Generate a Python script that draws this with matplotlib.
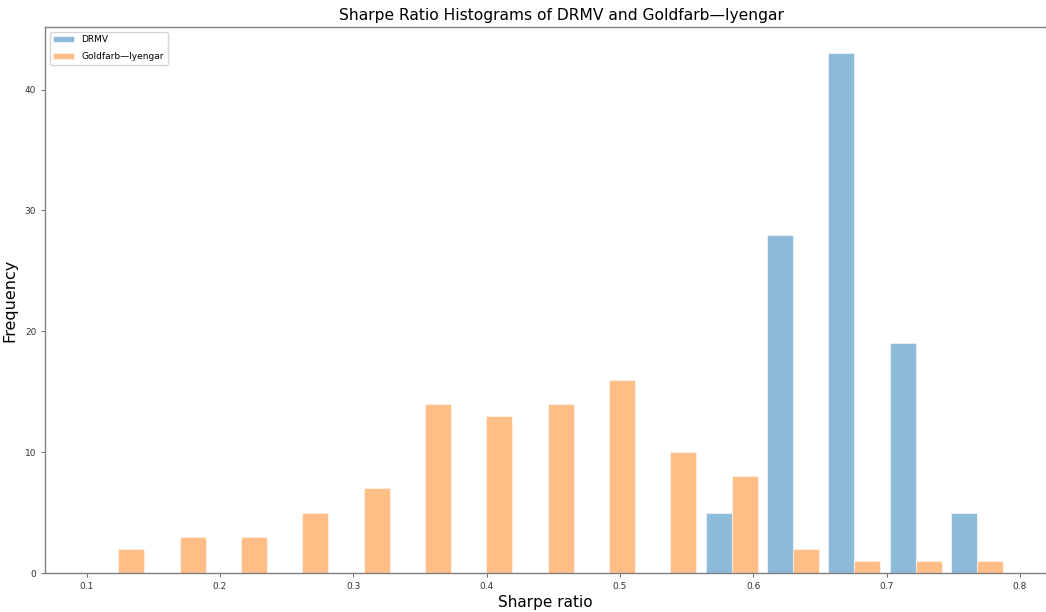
import numpy as np
import matplotlib
matplotlib.use("Agg")
from matplotlib import pyplot as plt

# histogram bins and counts per bin
bin_lo = 0.1008
bin_width = 0.04600
n_bins = 15
drmv_counts = [0, 0, 0, 0, 0, 0, 0, 0, 0, 0, 5, 28, 43, 19, 5]
gi_counts = [2, 3, 3, 5, 7, 14, 13, 14, 16, 10, 8, 2, 1, 1, 1]
labels = ["DRMV", "Goldfarb\u2014Iyengar"]


def main():
    edges = bin_lo + bin_width * np.arange(n_bins + 1)
    centers = 0.5 * (edges[:-1] + edges[1:])

    fig = plt.figure(figsize=(10.46, 6.12), dpi=100)
    ax = fig.add_axes([0.0433, 0.0637, 0.9567, 0.8917])

    ax.hist([centers, centers], bins=edges, weights=[drmv_counts, gi_counts],
            alpha=0.5, rwidth=0.85, edgecolor="white", linewidth=0.8,
            label=labels)

    ax.set_xlim(0.069, 0.8195)
    ax.set_xticks([0.1, 0.2, 0.3, 0.4, 0.5, 0.6, 0.7, 0.8])
    ax.set_yticks([0, 10, 20, 30, 40])
    ax.tick_params(labelsize=6.5, length=3, width=0.6, color="#555555",
                   labelcolor="#333333")
    for s in ["left", "bottom", "top"]:
        ax.spines[s].set_color("#808080")
        ax.spines[s].set_linewidth(1.0)
    ax.spines.right.set_visible(False)

    # the original axes ran past the right edge, so the title sits a bit right
    ax.set_title("Sharpe Ratio Histograms of DRMV and Goldfarb\u2014Iyengar",
                 fontsize=11.2, pad=5, x=0.516)
    ax.set_xlabel("Sharpe ratio", fontsize=11, labelpad=3)
    ax.set_ylabel("Frequency", fontsize=11.5)
    ax.yaxis.set_label_coords(-0.028, 0.5)
    ax.legend(loc="upper left", fontsize=6.5, labelspacing=0.85,
              handlelength=2.3)

    plt.savefig("out.png")
    plt.close()


if __name__ == "__main__":
    main()
